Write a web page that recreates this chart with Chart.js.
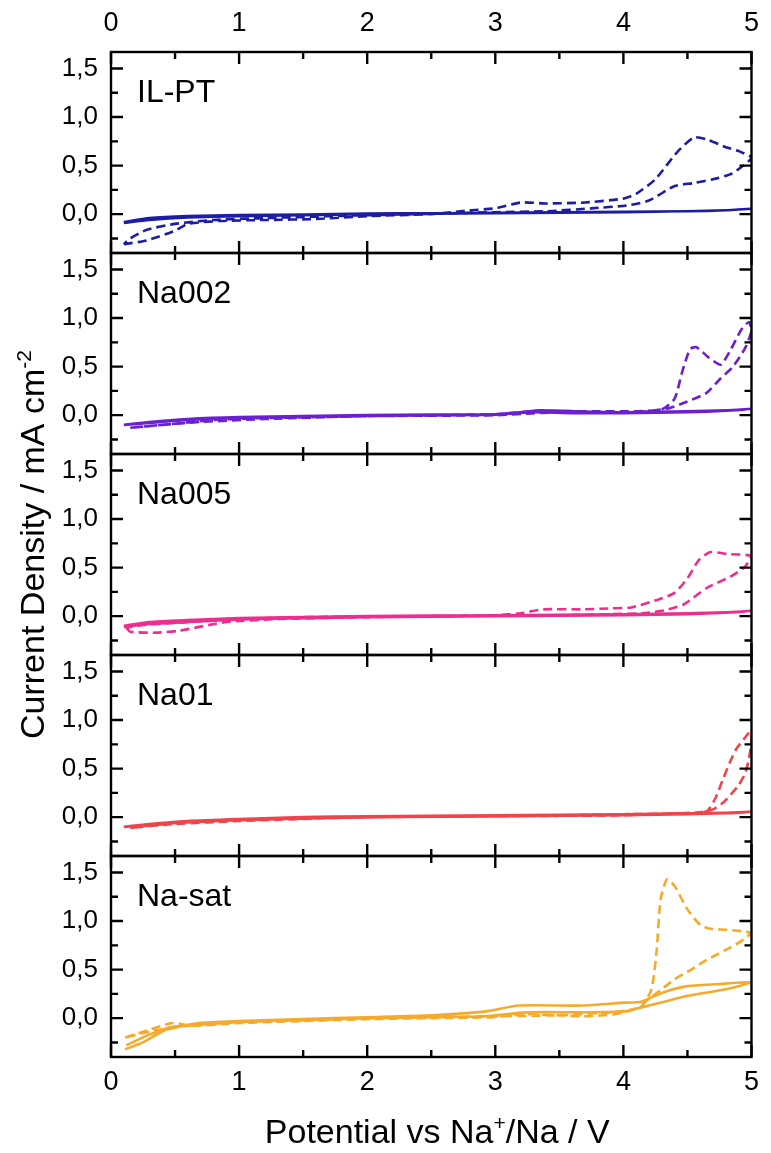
<!DOCTYPE html>
<html>
<head>
<meta charset="utf-8">
<script src="https://cdn.jsdelivr.net/npm/chart.js@4.4.1/dist/chart.umd.min.js"></script>
<style>
  body { margin: 0; background: #fff; }
  canvas { display: block; }
</style>
</head>
<body>
<canvas id="cv" width="771" height="1153"></canvas>
<script>
// axis setup
const xMin = 0, xMax = 5;
const yMin = -0.4, yMax = 1.67;
const xTicks = [0, 1, 2, 3, 4, 5];
const xTickMarks = [0, 0.5, 1, 1.5, 2, 2.5, 3, 3.5, 4, 4.5, 5];
const yTicks = [0, 0.5, 1, 1.5];
const yTickMarks = [-0.25, 0, 0.25, 0.5, 0.75, 1, 1.25, 1.5];

// [potential V, current density mA cm-2]
const ilptSolid = [[0.1,-0.09],[0.3,-0.06],[0.6,-0.035],[1.0,-0.02],[1.5,-0.01],[2,0],[2.5,0.005],[3,0.01],[3.5,0.015],[4,0.02],[4.5,0.03],[4.8,0.04],[5,0.055],[4.8,0.04],[4.5,0.03],[4,0.025],[3.5,0.02],[3,0.015],[2.5,0.01],[2,0.005],[1.5,-0.005],[1,-0.01],[0.6,-0.02],[0.3,-0.04],[0.1,-0.08]];
const ilptDash = [[0.1,-0.31],[0.28,-0.27],[0.5,-0.17],[0.6,-0.1],[0.85,-0.07],[1.2,-0.06],[1.6,-0.05],[2,-0.02],[2.5,0.0],[2.8,0.04],[3.0,0.06],[3.2,0.12],[3.4,0.11],[3.7,0.12],[4.0,0.16],[4.1,0.21],[4.25,0.36],[4.42,0.64],[4.55,0.79],[4.65,0.77],[4.8,0.69],[4.9,0.65],[5.0,0.58],[4.85,0.42],[4.7,0.36],[4.55,0.32],[4.4,0.29],[4.2,0.14],[4.03,0.09],[3.75,0.06],[3.4,0.03],[3,0.02],[2.5,0.005],[2,-0.01],[1.2,-0.04],[0.8,-0.06],[0.5,-0.1],[0.28,-0.16],[0.15,-0.25],[0.1,-0.31]];

const na002Solid = [[0.1,-0.1],[0.3,-0.07],[0.6,-0.04],[1,-0.02],[1.5,-0.01],[2,0],[2.5,0.005],[3,0.01],[3.2,0.03],[3.35,0.05],[3.6,0.04],[4,0.03],[4.5,0.04],[4.8,0.05],[5,0.065],[4.8,0.045],[4.5,0.03],[4,0.02],[3.6,0.02],[3.3,0.03],[3,0.005],[2.5,0],[2,-0.005],[1.5,-0.015],[1,-0.03],[0.6,-0.05],[0.3,-0.08],[0.1,-0.1]];
const na002Dash = [[0.15,-0.13],[0.4,-0.1],[0.8,-0.05],[1.2,-0.03],[2,-0.01],[3,0.01],[3.3,0.04],[3.8,0.04],[4.1,0.04],[4.3,0.06],[4.4,0.17],[4.46,0.45],[4.52,0.68],[4.57,0.7],[4.66,0.6],[4.76,0.52],[4.84,0.68],[4.92,0.88],[4.98,0.96],[5.0,0.87],[4.95,0.69],[4.85,0.49],[4.76,0.38],[4.65,0.23],[4.5,0.14],[4.35,0.07],[4.1,0.03],[3.5,0.03],[3,0.0],[2,-0.01],[1.2,-0.04],[0.7,-0.07],[0.4,-0.1],[0.15,-0.13]];

const na005Solid = [[0.1,-0.1],[0.3,-0.06],[0.6,-0.04],[1,-0.02],[1.5,-0.01],[2,0],[2.5,0.005],[3,0.01],[3.5,0.015],[4,0.02],[4.5,0.03],[4.8,0.04],[5,0.055],[4.8,0.035],[4.5,0.02],[4,0.01],[3.5,0.005],[3,0],[2.5,-0.005],[2,-0.01],[1.5,-0.02],[1,-0.035],[0.6,-0.06],[0.3,-0.08],[0.1,-0.11]];
const na005Dash = [[0.12,-0.12],[0.15,-0.16],[0.35,-0.17],[0.53,-0.15],[0.77,-0.09],[0.9,-0.06],[1.3,-0.03],[2,-0.01],[2.6,0.0],[3.0,0.01],[3.2,0.03],[3.37,0.07],[3.68,0.07],[3.9,0.08],[4.06,0.09],[4.27,0.17],[4.4,0.24],[4.5,0.39],[4.59,0.58],[4.68,0.66],[4.81,0.64],[5.0,0.62],[4.95,0.51],[4.84,0.41],[4.65,0.29],[4.47,0.12],[4.32,0.06],[4.14,0.03],[3.5,0.01],[2.5,0.0],[1.5,-0.01],[1.0,-0.03],[0.5,-0.07],[0.25,-0.09],[0.12,-0.12]];

const na01Solid = [[0.1,-0.1],[0.3,-0.07],[0.6,-0.04],[1,-0.02],[1.5,0],[2,0.01],[2.5,0.015],[3,0.02],[3.5,0.025],[4,0.03],[4.5,0.04],[4.8,0.045],[5,0.055],[4.8,0.04],[4.5,0.03],[4,0.02],[3.5,0.015],[3,0.01],[2.5,0.005],[2,0],[1.5,-0.01],[1,-0.03],[0.6,-0.05],[0.3,-0.08],[0.1,-0.1]];
const na01Dash = [[0.15,-0.11],[0.5,-0.06],[1,-0.03],[2,0],[3,0.01],[4,0.03],[4.5,0.04],[4.65,0.06],[4.72,0.2],[4.78,0.4],[4.83,0.56],[4.88,0.7],[4.95,0.82],[4.99,0.88],[5.0,0.8],[4.98,0.6],[4.95,0.45],[4.9,0.33],[4.85,0.25],[4.78,0.15],[4.7,0.08],[4.6,0.05],[4,0.02],[3,0.01],[2,0],[1,-0.04],[0.5,-0.07],[0.15,-0.11]];

const naSatSolid = [[0.11,-0.32],[0.25,-0.25],[0.43,-0.12],[0.69,-0.05],[1.0,-0.03],[1.5,-0.01],[2,0.01],[2.5,0.03],[2.93,0.07],[3.18,0.13],[3.68,0.13],[4.01,0.16],[4.14,0.17],[4.32,0.27],[4.5,0.33],[4.73,0.35],[5.0,0.37],[4.81,0.3],[4.5,0.23],[4.32,0.17],[4.14,0.11],[4.01,0.07],[3.68,0.06],[3.24,0.06],[2.93,0.02],[2.5,0.01],[2,0],[1.5,-0.02],[1.0,-0.04],[0.7,-0.07],[0.48,-0.09],[0.28,-0.18],[0.12,-0.28]];
const naSatDash = [[0.11,-0.2],[0.25,-0.14],[0.48,-0.05],[0.63,-0.08],[1.0,-0.05],[1.5,-0.03],[2,-0.01],[2.5,0.0],[2.98,0.01],[3.24,0.04],[3.68,0.02],[3.93,0.04],[4.14,0.12],[4.22,0.3],[4.26,0.7],[4.29,1.22],[4.34,1.43],[4.4,1.36],[4.5,1.12],[4.6,0.96],[4.68,0.92],[4.81,0.91],[4.99,0.88],[4.94,0.81],[4.81,0.71],[4.65,0.6],[4.53,0.5],[4.4,0.4],[4.3,0.3],[4.22,0.22],[4.1,0.1],[3.9,0.06],[3.5,0.03],[3,0.02],[2.5,0.01],[2,0],[1.5,-0.02],[1.0,-0.04],[0.6,-0.07],[0.3,-0.14],[0.11,-0.2]];

const panelNames = ['IL-PT', 'Na002', 'Na005', 'Na01', 'Na-sat'];
const panelColors = ['#1c1ca4', '#6a20d0', '#ec2e8e', '#f0444c', '#f6aa2c'];
const solidData = [ilptSolid, na002Solid, na005Solid, na01Solid, naSatSolid];
const dashData = [ilptDash, na002Dash, na005Dash, na01Dash, naSatDash];

const FONT = '"Liberation Sans", Arial, sans-serif';
const yIds = panelNames.map((n, i) => 'y' + i);

const toPts = arr => arr.map(p => ({ x: p[0], y: p[1] }));

const datasets = [];
panelNames.forEach((name, i) => {
  datasets.push({
    label: name + ' cycles',
    data: toPts(solidData[i]),
    yAxisID: yIds[i],
    borderColor: panelColors[i],
    borderWidth: 2.6,
    showLine: true,
    pointRadius: 0,
    tension: 0.2
  });
  datasets.push({
    label: name + ' 1st cycle',
    data: toPts(dashData[i]),
    yAxisID: yIds[i],
    borderColor: panelColors[i],
    borderWidth: 2.6,
    borderDash: [9, 5],
    showLine: true,
    pointRadius: 0,
    tension: 0.2
  });
});

function yAxis(i) {
  return {
    type: 'linear',
    position: 'left',
    stack: 'cv',
    stackWeight: 1,
    weight: 10 - i,   // higher weight sits higher in the stack
    min: yMin,
    max: yMax,
    afterBuildTicks: s => { s.ticks = yTicks.map(v => ({ value: v })); },
    afterFit: s => { s.width = 111; },
    grid: { display: false, drawTicks: false },
    border: { display: false },
    ticks: {
      padding: 13,
      color: '#000',
      font: { family: FONT, size: 26 },
      callback: v => Number(v).toFixed(1).replace('.', ',')
    }
  };
}

function xAxis(pos, h, pad) {
  return {
    type: 'linear',
    position: pos,
    min: xMin,
    max: xMax,
    afterBuildTicks: s => { s.ticks = xTicks.map(v => ({ value: v })); },
    afterFit: s => { s.height = h; },
    grid: { display: false, drawTicks: false },
    border: { display: false },
    ticks: { padding: pad, color: '#000', font: { family: FONT, size: 27 } }
  };
}

const scales = { x: xAxis('bottom', 96, 9), x2: xAxis('top', 52, 12) };
yIds.forEach((id, i) => { scales[id] = yAxis(i); });

// draws text pieces, some as superscript, starting at x
function drawRich(ctx, parts, x, y, size) {
  let cx = x;
  parts.forEach(([t, sup]) => {
    ctx.font = (sup ? Math.round(size * 0.62) : size) + 'px ' + FONT;
    ctx.fillText(t, cx, sup ? y - size * 0.38 : y);
    cx += ctx.measureText(t).width;
  });
}
function richWidth(ctx, parts, size) {
  let w = 0;
  parts.forEach(([t, sup]) => {
    ctx.font = (sup ? Math.round(size * 0.62) : size) + 'px ' + FONT;
    w += ctx.measureText(t).width;
  });
  return w;
}

const framePlugin = {
  id: 'frame',
  afterDraw(chart) {
    const ctx = chart.ctx;
    const { left, right, top, bottom } = chart.chartArea;
    const xs = chart.scales.x;
    ctx.save();
    ctx.strokeStyle = '#000';
    ctx.fillStyle = '#000';
    ctx.lineWidth = 2.4;
    yIds.forEach((id, i) => {
      const s = chart.scales[id];
      ctx.strokeRect(left, s.top, right - left, s.bottom - s.top);
      ctx.beginPath();
      yTickMarks.forEach(v => {
        const y = s.getPixelForValue(v);
        const len = yTicks.includes(v) ? 12 : 7;
        ctx.moveTo(left, y); ctx.lineTo(left + len, y);
        ctx.moveTo(right, y); ctx.lineTo(right - len, y);
      });
      xTickMarks.forEach(v => {
        const x = xs.getPixelForValue(v);
        const len = Number.isInteger(v) ? 12 : 7;
        ctx.moveTo(x, s.top); ctx.lineTo(x, s.top + len);
        ctx.moveTo(x, s.bottom); ctx.lineTo(x, s.bottom - len);
      });
      ctx.stroke();
      ctx.font = '32px ' + FONT;
      ctx.textAlign = 'left';
      ctx.textBaseline = 'alphabetic';
      ctx.fillText(panelNames[i], left + 26, s.top + 50);
    });

    // axis titles
    const size = 34;
    ctx.textAlign = 'left';
    ctx.textBaseline = 'alphabetic';
    const xt = [['Potential vs Na', false], ['+', true], ['/Na / V', false]];
    const xw = richWidth(ctx, xt, size);
    drawRich(ctx, xt, (left + right) / 2 + 6 - xw / 2, 1143, size);

    const yt = [['Current Density / mA cm', false], ['-2', true]];
    const yw = richWidth(ctx, yt, size);
    ctx.translate(44, (top + bottom) / 2 - 10);
    ctx.rotate(-Math.PI / 2);
    drawRich(ctx, yt, -yw / 2, 0, size);
    ctx.restore();
  }
};

new Chart(document.getElementById('cv'), {
  type: 'scatter',
  data: { datasets },
  options: {
    responsive: false,
    animation: false,
    layout: { padding: { left: 0, right: 13, top: 0, bottom: 0 } },
    plugins: { legend: { display: false }, tooltip: { enabled: false } },
    scales
  },
  plugins: [framePlugin]
});
</script>
</body>
</html>
